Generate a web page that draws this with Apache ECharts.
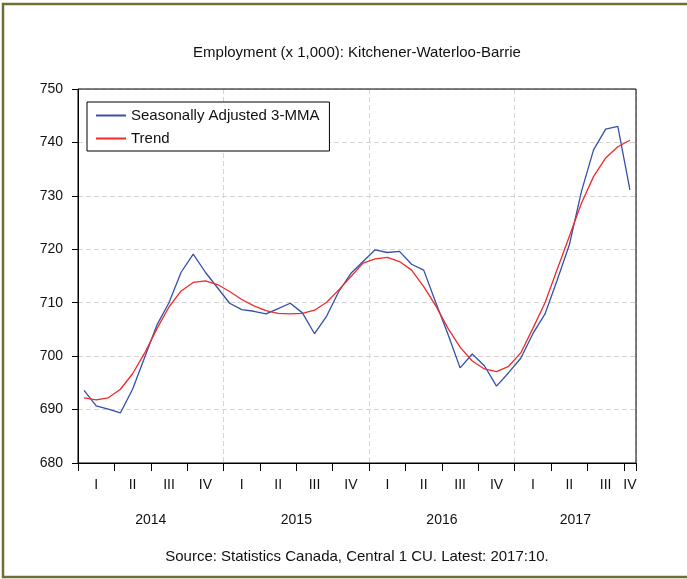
<!DOCTYPE html>
<html>
<head>
<meta charset="utf-8">
<script src="https://cdn.jsdelivr.net/npm/echarts@6/dist/echarts.min.js"></script>
<style>
  html, body { margin: 0; padding: 0; background: #fff; }
  #chart { width: 687px; height: 579px; }
</style>
</head>
<body>
<div id="chart"></div>
<script>
const months = [
  '2014-01', '2014-02', '2014-03', '2014-04', '2014-05', '2014-06', '2014-07', '2014-08', '2014-09', '2014-10', '2014-11', '2014-12',
  '2015-01', '2015-02', '2015-03', '2015-04', '2015-05', '2015-06', '2015-07', '2015-08', '2015-09', '2015-10', '2015-11', '2015-12',
  '2016-01', '2016-02', '2016-03', '2016-04', '2016-05', '2016-06', '2016-07', '2016-08', '2016-09', '2016-10', '2016-11', '2016-12',
  '2017-01', '2017-02', '2017-03', '2017-04', '2017-05', '2017-06', '2017-07', '2017-08', '2017-09', '2017-10'
];
const seasAdj3mma = [
  693.6, 690.7, 690.1, 689.4, 693.8, 699.8, 705.8, 710.0, 715.7, 719.1, 715.7, 712.8,
  709.9, 708.7, 708.4, 707.9, 708.9, 709.9, 708.1, 704.2, 707.5, 712.1, 715.5, 717.7,
  719.9, 719.4, 719.6, 717.2, 716.1, 710.0, 704.1, 697.8, 700.4, 698.2, 694.4, 696.9,
  699.6, 704.2, 707.9, 714.2, 720.8, 730.8, 738.6, 742.5, 743.0, 731.1
];
const trend = [
  692.2, 691.8, 692.2, 693.8, 696.7, 700.6, 705.1, 709.2, 712.2, 713.8, 714.1, 713.4,
  712.1, 710.6, 709.4, 708.5, 708.0, 707.9, 708.0, 708.6, 710.1, 712.4, 714.9, 717.4,
  718.2, 718.5, 717.7, 716.1, 713.0, 709.4, 705.2, 701.7, 699.1, 697.6, 697.1, 698.1,
  700.6, 705.2, 710.0, 716.2, 722.4, 728.6, 733.6, 737.1, 739.2, 740.4
];
const quarterNames = ['I', 'II', 'III', 'IV'];
const yearLabels = ['2014', '2015', '2016', '2017'];
const yearCenters = [6, 18, 30, 41];
const quarterBounds = [0, 3, 6, 9, 12, 15, 18, 21, 24, 27, 30, 33, 36, 39, 42, 45, 46];

const chart = echarts.init(document.getElementById('chart'));
const font = 'Liberation Sans, Arial, sans-serif';

chart.setOption({
  backgroundColor: '#fff',
  animation: false,
  textStyle: { fontFamily: font },
  graphic: [
    {
      type: 'rect',
      shape: { x: 3, y: 4, width: 700, height: 573 },
      style: { fill: 'none', stroke: '#6f6f33', lineWidth: 2.5 }
    },
    {
      type: 'text', x: 357, y: 53,
      style: {
        text: 'Employment (x 1,000): Kitchener-Waterloo-Barrie',
        fill: '#111', font: '15px ' + font, textAlign: 'center', textVerticalAlign: 'middle'
      }
    },
    {
      type: 'text', x: 357, y: 557,
      style: {
        text: 'Source: Statistics Canada, Central 1 CU. Latest: 2017:10.',
        fill: '#111', font: '15px ' + font, textAlign: 'center', textVerticalAlign: 'middle'
      }
    }
  ],
  legend: {
    orient: 'vertical',
    left: 87,
    top: 102,
    padding: [6, 10, 5, 8],
    itemWidth: 30,
    itemHeight: 14,
    itemGap: 8,
    backgroundColor: '#fff',
    borderColor: '#000',
    borderWidth: 1,
    itemStyle: { opacity: 0 },
    textStyle: { fontSize: 15, color: '#111', fontFamily: font },
    data: ['Seasonally Adjusted 3-MMA', 'Trend']
  },
  grid: {
    left: 78, right: 51, top: 89, bottom: 116,
    show: true, borderColor: '#000', borderWidth: 1, z: 10
  },
  xAxis: [
    {
      type: 'category',
      data: months,
      boundaryGap: true,
      axisLine: { lineStyle: { color: '#000', width: 1 } },
      axisTick: { interval: 0, length: 4, lineStyle: { color: '#000' } },
      axisLabel: {
        interval: (i) => i % 3 === 1 || i === months.length - 1,
        formatter: (v) => quarterNames[Math.floor((parseInt(v.slice(5), 10) - 1) / 3)],
        color: '#111', fontSize: 14, margin: 15
      },
      splitLine: {
        show: true,
        interval: (i) => i > 0 && i % 12 === 0,
        lineStyle: { color: '#d4d4d4', type: [5, 3], width: 1 }
      }
    },
    {
      type: 'value',
      min: 0, max: 46,
      position: 'bottom',
      axisLine: { show: false },
      axisTick: { show: true, length: 8, customValues: quarterBounds, lineStyle: { color: '#000' } },
      axisLabel: {
        customValues: yearCenters,
        formatter: (v) => yearLabels[yearCenters.indexOf(v)] || '',
        color: '#111', fontSize: 14, margin: 50
      },
      splitLine: { show: false }
    }
  ],
  yAxis: {
    type: 'value',
    min: 680, max: 750, interval: 10,
    axisLine: { show: true, lineStyle: { color: '#000' } },
    axisTick: { show: true, length: 6, lineStyle: { color: '#000' } },
    axisLabel: { color: '#111', fontSize: 14, margin: 15 },
    splitLine: { lineStyle: { color: '#d4d4d4', type: [5, 3], width: 1 } }
  },
  series: [
    {
      name: 'Seasonally Adjusted 3-MMA',
      type: 'line',
      xAxisIndex: 0,
      data: seasAdj3mma,
      symbol: 'none',
      lineStyle: { color: '#3450a8', width: 1.3 },
      itemStyle: { color: '#3450a8' }
    },
    {
      name: 'Trend',
      type: 'line',
      xAxisIndex: 0,
      data: trend,
      symbol: 'none',
      lineStyle: { color: '#ee2a2a', width: 1.3 },
      itemStyle: { color: '#ee2a2a' }
    }
  ]
});
</script>
</body>
</html>
